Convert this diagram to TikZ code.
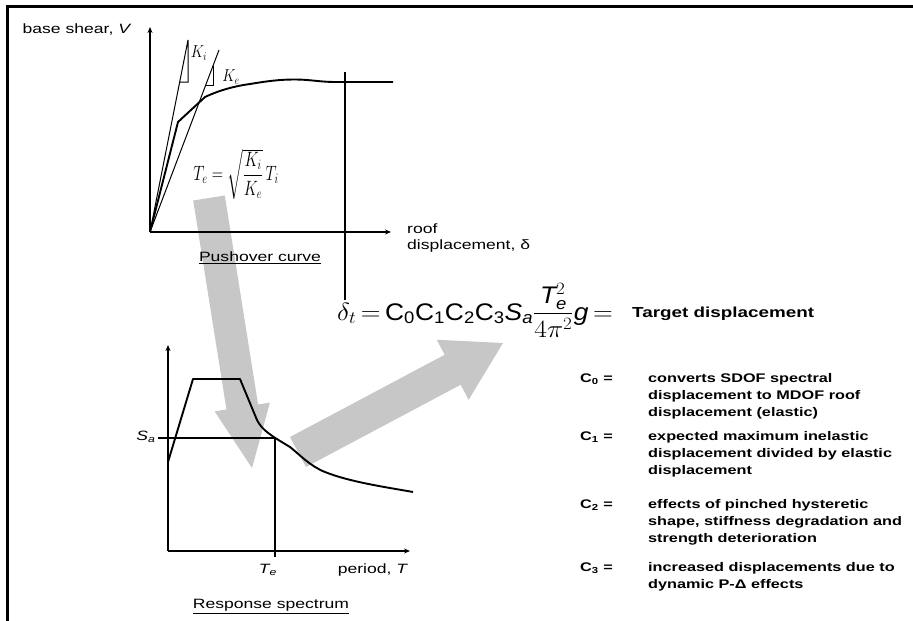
\documentclass[tikz,border=0pt]{standalone}
\usepackage{amsmath}
\usepackage{fontspec}
\setmainfont{Liberation Sans}
\setsansfont{Liberation Sans}
\usepackage{graphicx}
\usetikzlibrary{calc,arrows.meta}
\newcommand{\sx}[1]{\scalebox{1.3}[1]{#1}}
\begin{document}
\begin{tikzpicture}[x=1pt,y=-1pt,
  axis/.style={line width=1.5pt,-{Stealth[length=6pt,width=5pt]}},
  curve/.style={line width=1.9pt,line join=round},
  thinline/.style={line width=1pt},
  gline/.style={line width=1.5pt},
  lbl/.style={inner sep=0pt,font=\fontsize{13.5}{15}\selectfont},
  klbl/.style={inner sep=0pt,font=\fontsize{18}{20}\selectfont},
  deftxt/.style={inner sep=0pt,anchor=west,font=\fontsize{12.5}{14}\selectfont\bfseries},
  garrow/.style={fill=black!22,draw=none}]
\useasboundingbox (0,0) rectangle (913,621);
% frame
\coordinate (f1) at (913,6); \coordinate (f0) at (7,6); \coordinate (f2) at (7,621);
\draw[line width=3pt] (f1) -- (f0) -- (f2);
% gray arrow 1
\coordinate (a1t) at (209,198); \coordinate (a1h) at (252,468);
\coordinate (a1b) at ($(a1h)!61.8pt!(a1t)$);
\fill[garrow] ($(a1t)!16pt!90:(a1h)$) -- ($(a1b)!16pt!-90:(a1t)$) -- ($(a1b)!28pt!-90:(a1t)$) -- (a1h)
  -- ($(a1b)!28pt!90:(a1t)$) -- ($(a1b)!16pt!90:(a1t)$) -- ($(a1t)!16pt!-90:(a1h)$) -- cycle;
% gray arrow 2
\coordinate (a2t) at (298,452); \coordinate (a2h) at (503,343);
\coordinate (a2b) at ($(a2h)!57pt!(a2t)$);
\fill[garrow] ($(a2t)!17pt!90:(a2h)$) -- ($(a2b)!17pt!-90:(a2t)$) -- ($(a2b)!34pt!-90:(a2t)$) -- (a2h)
  -- ($(a2b)!34pt!90:(a2t)$) -- ($(a2b)!17pt!90:(a2t)$) -- ($(a2t)!17pt!-90:(a2h)$) -- cycle;
% pushover axes
\coordinate (O1) at (150,232); \coordinate (Y1) at (150,27); \coordinate (X1) at (391,232);
\draw[axis] (O1) -- (Y1);
\draw[axis] (O1) -- (X1);
% stiffness lines
\coordinate (ki) at (188,40); \coordinate (kib) at (188,82); \coordinate (kic) at (179.7,82);
\coordinate (ke) at (219,50); \coordinate (kea) at (213,66); \coordinate (keb) at (213,85); \coordinate (kec) at (205.7,85);
\draw[thinline] (O1) -- (ki) -- (kib) -- (kic);
\draw[thinline] (O1) -- (ke);
\draw[thinline] (kea) -- (keb) -- (kec);
% pushover curve
\coordinate (p1) at (178,122); \coordinate (p2) at (205,97); \coordinate (p3) at (250,84);
\coordinate (p4) at (295,79.5); \coordinate (p5) at (335,82); \coordinate (p6) at (393,82);
\draw[curve] (O1) -- (p1) -- (p2) .. controls (220,90) and (235,86) .. (p3)
  .. controls (268,81) and (280,79.5) .. (p4) .. controls (310,79.5) and (320,82) .. (p5) -- (p6);
% target line
\coordinate (vt) at (345,72); \coordinate (vb) at (345,300);
\draw[gline] (vt) -- (vb);
% pushover labels
\node[lbl] (bs) at (77,29) {\sx{base shear, \textit{V}}};
\node[klbl] (lki) at (199,53) {\scalebox{0.85}[1]{$K_i$}};
\node[klbl] (lke) at (231,77) {\scalebox{0.85}[1]{$K_e$}};
\node[inner sep=0pt,font=\fontsize{20}{22}\selectfont] (te) at (236,174) {\scalebox{0.75}[1]{$T_e=\sqrt{\dfrac{K_i}{K_e}}\,T_i$}};
\node[lbl,anchor=west] (roof) at (407,229) {\sx{roof}};
\node[lbl,anchor=west] (disp) at (407,246) {\sx{displacement, δ}};
\node[lbl] (pc) at (260,258) {\sx{\underline{Pushover curve}}};
% spectrum axes
\coordinate (O2) at (168,551); \coordinate (Y2) at (168,345); \coordinate (X2) at (410,551);
\draw[axis] (O2) -- (Y2);
\draw[axis] (O2) -- (X2);
% spectrum curve
\coordinate (s0) at (168,462); \coordinate (s1) at (193,379); \coordinate (s2) at (240,379);
\coordinate (s3) at (257,420); \coordinate (s4) at (290,447); \coordinate (s5) at (325,472);
\coordinate (s6) at (413,492);
\draw[curve] (s0) -- (s1) -- (s2) -- (s3) .. controls (262,430) and (270,435) .. (s4)
  .. controls (300,455) and (310,466) .. (s5) .. controls (350,482) and (385,487) .. (s6);
% Sa / Te lines
\coordinate (h0) at (158,438); \coordinate (h1) at (275,438); \coordinate (v1) at (275,557);
\draw[gline] (h0) -- (h1) -- (v1);
% spectrum labels
\node[lbl] (sa) at (146,437) {\sx{$\mathit{S}_{\mathit{a}}$}};
\node[lbl] (tel) at (268,570) {\sx{$\mathit{T}_{\mathit{e}}$}};
\node[lbl] (per) at (373,570) {\sx{period, \textit{T}}};
\node[lbl] (rs) at (271,607) {\sx{\underline{Response spectrum}}};
% main formula
\node[inner sep=0pt,anchor=base west,font=\fontsize{24}{26}\selectfont] (fm) at (337,320)
  {\scalebox{1.1}[1]{$\delta_t\,{=}\,\mathrm{C_0C_1C_2C_3}\mathit{S_a}\dfrac{\mathit{T}_{\mathit{e}}^{2}}{4\pi^2}\mathit{g}\,{=}$}};
\node[inner sep=0pt,anchor=west,font=\fontsize{14.5}{16}\selectfont\bfseries] (td) at (632,314) {\sx{Target displacement}};
% definitions
\node[deftxt] (c0) at (580,379) {\sx{C\textsubscript{0} =}};
\node[deftxt] (c0a) at (648,379) {\sx{converts SDOF spectral}};
\node[deftxt] (c0b) at (648,396) {\sx{displacement to MDOF roof}};
\node[deftxt] (c0c) at (648,413) {\sx{displacement (elastic)}};
\node[deftxt] (c1) at (580,437) {\sx{C\textsubscript{1} =}};
\node[deftxt] (c1a) at (648,437) {\sx{expected maximum inelastic}};
\node[deftxt] (c1b) at (648,454) {\sx{displacement divided by elastic}};
\node[deftxt] (c1c) at (648,471) {\sx{displacement}};
\node[deftxt] (c2) at (580,505) {\sx{C\textsubscript{2} =}};
\node[deftxt] (c2a) at (648,505) {\sx{effects of pinched hysteretic}};
\node[deftxt] (c2b) at (648,522) {\sx{shape, stiffness degradation and}};
\node[deftxt] (c2c) at (648,539) {\sx{strength deterioration}};
\node[deftxt] (c3) at (580,568) {\sx{C\textsubscript{3} =}};
\node[deftxt] (c3a) at (648,568) {\sx{increased displacements due to}};
\node[deftxt] (c3b) at (648,585) {\sx{dynamic P-Δ effects}};
\end{tikzpicture}
\end{document}
